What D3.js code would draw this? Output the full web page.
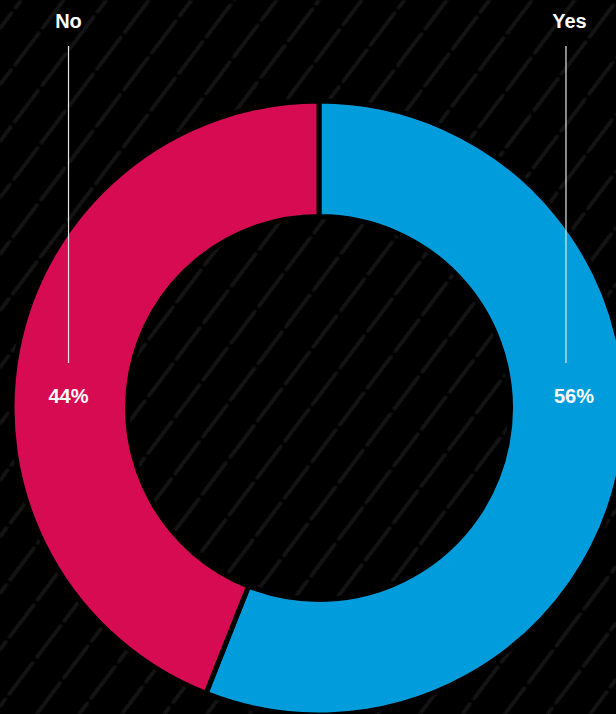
<!DOCTYPE html>
<html>
<head>
<meta charset="utf-8">
<script src="https://cdn.jsdelivr.net/npm/d3@7"></script>
<style>
  html, body { margin: 0; padding: 0; background: #000; }
  svg { display: block; }
</style>
</head>
<body>
<div id="chart"></div>
<script>
const categories = ["Yes", "No"];
const values = [56, 44];
const colors = ["#009CDB", "#D60B52"];
const percentLabels = ["56%", "44%"];

const W = 616, H = 714;
const cx = 319, cy = 408;
const outerR = 307, innerR = 191.5;

const svg = d3.select("#chart").append("svg")
  .attr("width", W).attr("height", H);

const defs = svg.append("defs");
const blur = defs.append("filter").attr("id", "soft")
  .attr("x", "-20%").attr("y", "-20%").attr("width", "140%").attr("height", "140%");
blur.append("feGaussianBlur").attr("stdDeviation", 0.9);

const pat = defs.append("pattern").attr("id", "rain")
  .attr("patternUnits", "userSpaceOnUse")
  .attr("width", 34).attr("height", 46)
  .attr("patternTransform", "rotate(37)");
pat.append("line")
  .attr("x1", 17).attr("x2", 17).attr("y1", 3).attr("y2", 43)
  .attr("stroke", "#1e1e1e").attr("stroke-width", 3)
  .attr("stroke-linecap", "round");

svg.append("rect").attr("width", W).attr("height", H).attr("fill", "#000");
svg.append("rect").attr("width", W).attr("height", H)
  .attr("fill", "url(#rain)").attr("filter", "url(#soft)");

const data = categories.map((c, i) => ({ cat: c, value: values[i], color: colors[i], pct: percentLabels[i] }));

const pie = d3.pie().value(d => d.value).sort(null);
const arcs = pie(data);
const arc = d3.arc().innerRadius(innerR).outerRadius(outerR);
const midArc = d3.arc().innerRadius(255).outerRadius(255);

const g = svg.append("g").attr("transform", `translate(${cx},${cy})`);
g.selectAll("path.slice").data(arcs).enter().append("path")
  .attr("class", "slice")
  .attr("d", arc)
  .attr("fill", d => d.data.color)
  .attr("stroke", "#000")
  .attr("stroke-width", 5)
  .attr("stroke-linejoin", "miter");

const lab = svg.append("g");
arcs.forEach(a => {
  const x = cx + midArc.centroid(a)[0];
  const right = x > cx;
  const lineX = right ? x - 3.5 : x;
  const pctX = right ? x + 4.5 : x;
  lab.append("line")
    .attr("x1", lineX).attr("x2", lineX)
    .attr("y1", 46).attr("y2", 363)
    .attr("stroke", "#e6e6e6").attr("stroke-width", 1.2);
  lab.append("text")
    .attr("x", x).attr("y", 28)
    .attr("text-anchor", "middle")
    .attr("font-family", "'Liberation Sans', Arial, sans-serif")
    .attr("font-weight", "bold").attr("font-size", 20)
    .attr("fill", "#fff")
    .text(a.data.cat);
  lab.append("text")
    .attr("x", pctX).attr("y", 403)
    .attr("text-anchor", "middle")
    .attr("font-family", "'Liberation Sans', Arial, sans-serif")
    .attr("font-weight", "bold").attr("font-size", 20)
    .attr("fill", "#fff")
    .text(a.data.pct);
});
</script>
</body>
</html>
